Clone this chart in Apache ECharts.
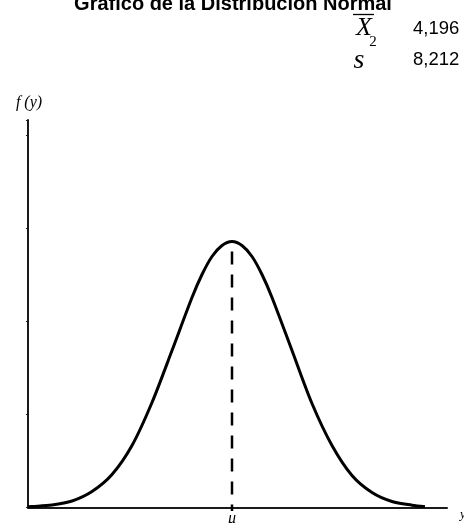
<!DOCTYPE html>
<html>
<head>
<meta charset="utf-8">
<script src="https://cdn.jsdelivr.net/npm/echarts@6/dist/echarts.min.js"></script>
<style>
html,body{margin:0;padding:0;background:#fff;}
#chart{width:464px;height:523px;}
</style>
</head>
<body>
<div id="chart"></div>
<script>
// Values (x: position along the axis, y: height of the density curve)
var curveX = [0, 4, 24, 44, 64, 84, 104, 124, 144, 164, 174, 184, 194, 204, 214, 224, 234, 244, 264, 284, 304, 324, 344, 364, 384, 397];
var curveY = [0.8, 1, 2.5, 6.5, 16, 33, 62, 105, 157, 210, 233, 251, 262, 266, 262, 251, 233, 210, 157, 104, 62, 32, 15, 6, 2.3, 0.8];
var meanX = 204;          // position of mu on the axis
var meanLineTop = 256;    // top of the dashed line
var xMax = 419;
var yMax = 387.5;
var yTickStep = 93;
var titleText = 'Gráfico de la Distribución Normal';
var statNames = ['X', 's'];
var statValues = ['4,196', '8,212'];
var yAxisName = 'f (y)';
var xAxisName = 'y';
var meanLabel = 'μ';

var curveData = curveX.map(function (x, i) { return [x, curveY[i]]; });
var serif = '"Liberation Serif", "DejaVu Serif", serif';
var sans = '"Liberation Sans", Arial, sans-serif';

var chart = echarts.init(document.getElementById('chart'), null, {renderer: 'canvas'});
chart.setOption({
  animation: false,
  backgroundColor: '#ffffff',
  grid: {left: 28, right: 17, top: 120, bottom: 15.5, containLabel: false},
  xAxis: {
    type: 'value', min: 0, max: xMax,
    axisLine: {show: true, lineStyle: {color: '#1a1a1a', width: 2}},
    axisTick: {show: false}, axisLabel: {show: false}, splitLine: {show: false}
  },
  yAxis: {
    type: 'value', min: 0, max: yMax, interval: yTickStep,
    axisLine: {show: true, lineStyle: {color: '#1a1a1a', width: 2}},
    axisTick: {show: true, inside: false, length: 2, lineStyle: {color: '#1a1a1a', width: 1}},
    axisLabel: {show: false}, splitLine: {show: false}
  },
  series: [
    {
      type: 'line', data: curveData, smooth: 0.3, symbol: 'none',
      lineStyle: {color: '#000', width: 3}, clip: false, z: 3
    },
    {
      type: 'line', data: [[meanX, meanLineTop], [meanX, -3.5]], symbol: 'none',
      lineStyle: {color: '#000', width: 2.5, type: [13, 10]}, clip: false, z: 2
    }
  ],
  graphic: [
    {type: 'text', x: 233, y: 4, style: {text: titleText, font: 'bold 20px ' + sans, fill: '#000', align: 'center', verticalAlign: 'middle'}},
    {type: 'line', shape: {x1: 353, y1: 14.5, x2: 374, y2: 14.5}, style: {stroke: '#000', lineWidth: 1.3}},
    {type: 'text', x: 364, y: 28, style: {text: statNames[0], font: 'italic 26px ' + serif, fill: '#000', align: 'center', verticalAlign: 'middle'}},
    {type: 'text', x: 413, y: 29, style: {text: statValues[0], font: '18.5px ' + sans, fill: '#000', align: 'left', verticalAlign: 'middle'}},
    {type: 'text', x: 359, y: 61, style: {text: statNames[1], font: 'italic 28px ' + serif, fill: '#000', align: 'center', verticalAlign: 'middle'}},
    {type: 'text', x: 373, y: 42, style: {text: '2', font: '15px ' + serif, fill: '#000', align: 'center', verticalAlign: 'middle'}},
    {type: 'text', x: 413, y: 60, style: {text: statValues[1], font: '18.5px ' + sans, fill: '#000', align: 'left', verticalAlign: 'middle'}},
    {type: 'text', x: 29, y: 103, style: {text: yAxisName, font: 'italic 16px ' + serif, fill: '#000', align: 'center', verticalAlign: 'middle'}},
    {type: 'text', x: 232, y: 519, style: {text: meanLabel, font: 'italic 16px ' + serif, fill: '#000', align: 'center', verticalAlign: 'middle'}},
    {type: 'text', x: 460, y: 515, style: {text: xAxisName, font: 'italic 13px ' + serif, fill: '#000', align: 'left', verticalAlign: 'middle'}}
  ]
});
</script>
</body>
</html>
